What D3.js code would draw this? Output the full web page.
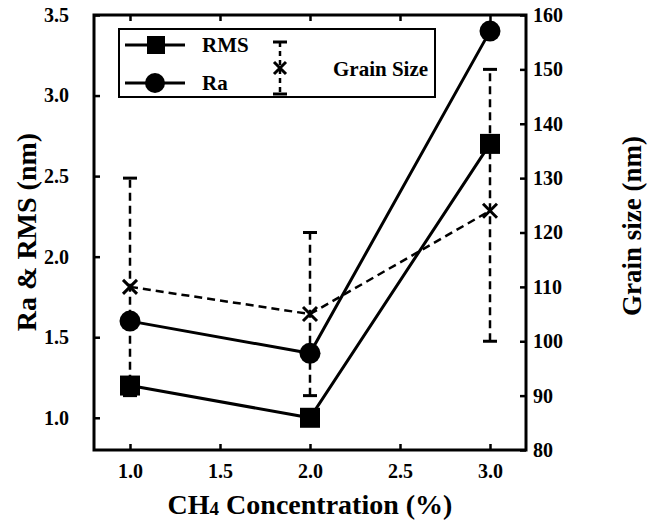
<!DOCTYPE html>
<html>
<head>
<meta charset="utf-8">
<script src="https://cdn.jsdelivr.net/npm/d3@7"></script>
<style>
  body { margin: 0; background: #fff; }
</style>
</head>
<body>
<div id="chart"></div>
<script>
// data
var conc = [1.0, 2.0, 3.0];
var rms = [1.2, 1.0, 2.7];
var ra = [1.6, 1.4, 3.4];
var grain = [110, 105, 124];
var grainLow = [90, 90, 100];
var grainHigh = [130, 120, 150];

var leftTicks = [1.0, 1.5, 2.0, 2.5, 3.0, 3.5];
var rightTicks = [80, 90, 100, 110, 120, 130, 140, 150, 160];
var xTicks = [1.0, 1.5, 2.0, 2.5, 3.0];

var W = 649, H = 523;
var FONT = "'Liberation Serif', 'Times New Roman', serif";
var svg = d3.select("#chart").append("svg")
  .attr("width", W)
  .attr("height", H);

var x = d3.scaleLinear().domain([0.8, 3.2]).range([94, 526]);
var y = d3.scaleLinear().domain([0.8, 3.5]).range([450, 15]);
var y2 = d3.scaleLinear().domain([80, 160]).range([450, 15]);

function styleAxis(g) {
  g.select(".domain").remove();
  g.selectAll(".tick line").attr("stroke", "#000").attr("stroke-width", 2.5);
  g.selectAll(".tick text").style("font-size", "20px");
}

svg.append("g").attr("transform", "translate(0,450)")
  .call(d3.axisBottom(x).tickValues(xTicks).tickSize(-6).tickPadding(14).tickFormat(d3.format(".1f")))
  .call(styleAxis);
svg.append("g").attr("transform", "translate(0,15)")
  .call(d3.axisTop(x).tickValues(xTicks).tickSize(-6).tickFormat(""))
  .call(styleAxis);
svg.append("g").attr("transform", "translate(94,0)")
  .call(d3.axisLeft(y).tickValues(leftTicks).tickSize(-6).tickPadding(25).tickFormat(d3.format(".1f")))
  .call(styleAxis);
svg.append("g").attr("transform", "translate(526,0)")
  .call(d3.axisRight(y2).tickValues(rightTicks).tickSize(-6).tickPadding(7))
  .call(styleAxis);

// frame
svg.append("rect")
  .attr("x", 94).attr("y", 15)
  .attr("width", 526 - 94).attr("height", 450 - 15)
  .attr("fill", "none").attr("stroke", "#000").attr("stroke-width", 3);

// grain size error bars + dashed line
var ebar = svg.append("g");
conc.forEach(function(c, i) {
  ebar.append("line")
    .attr("x1", x(c)).attr("x2", x(c))
    .attr("y1", y2(grainLow[i])).attr("y2", y2(grainHigh[i]))
    .attr("stroke", "#000").attr("stroke-width", 2.5).attr("stroke-dasharray", "8,5");
  [grainLow[i], grainHigh[i]].forEach(function(v) {
    ebar.append("line")
      .attr("x1", x(c) - 7).attr("x2", x(c) + 7)
      .attr("y1", y2(v)).attr("y2", y2(v))
      .attr("stroke", "#000").attr("stroke-width", 3);
  });
});

var gline = d3.line().x(function(d, i) { return x(conc[i]); }).y(function(d) { return y2(d); });
svg.append("path").datum(grain)
  .attr("d", gline)
  .attr("fill", "none").attr("stroke", "#000").attr("stroke-width", 2.5).attr("stroke-dasharray", "8,5");

var line = d3.line().x(function(d, i) { return x(conc[i]); }).y(function(d) { return y(d); });
svg.append("path").datum(rms).attr("d", line)
  .attr("fill", "none").attr("stroke", "#000").attr("stroke-width", 3);
svg.append("path").datum(ra).attr("d", line)
  .attr("fill", "none").attr("stroke", "#000").attr("stroke-width", 3);

// markers
function cross(g, cx, cy, s) {
  g.append("path")
    .attr("d", "M" + (cx - s) + "," + (cy - s) + "L" + (cx + s) + "," + (cy + s) +
               "M" + (cx - s) + "," + (cy + s) + "L" + (cx + s) + "," + (cy - s))
    .attr("stroke", "#000").attr("stroke-width", 3).attr("fill", "none");
}
var marks = svg.append("g");
rms.forEach(function(v, i) {
  marks.append("rect")
    .attr("x", x(conc[i]) - 10).attr("y", y(v) - 10)
    .attr("width", 20).attr("height", 20).attr("fill", "#000");
});
ra.forEach(function(v, i) {
  marks.append("circle")
    .attr("cx", x(conc[i])).attr("cy", y(v)).attr("r", 10.5).attr("fill", "#000");
});
grain.forEach(function(v, i) { cross(marks, x(conc[i]), y2(v), 7); });

// legend
var lg = svg.append("g");
lg.append("rect").attr("x", 119).attr("y", 29).attr("width", 316).attr("height", 68)
  .attr("fill", "#fff").attr("stroke", "#000").attr("stroke-width", 2);
lg.append("line").attr("x1", 125).attr("x2", 185).attr("y1", 45).attr("y2", 45)
  .attr("stroke", "#000").attr("stroke-width", 3);
lg.append("rect").attr("x", 147).attr("y", 36).attr("width", 18).attr("height", 18).attr("fill", "#000");
lg.append("line").attr("x1", 125).attr("x2", 185).attr("y1", 83).attr("y2", 83)
  .attr("stroke", "#000").attr("stroke-width", 3);
lg.append("circle").attr("cx", 155).attr("cy", 83).attr("r", 10).attr("fill", "#000");
lg.append("text").attr("x", 202).attr("y", 52).style("font-size", "21px").text("RMS");
lg.append("text").attr("x", 202).attr("y", 90).style("font-size", "21px").text("Ra");
lg.append("line").attr("x1", 280).attr("x2", 280).attr("y1", 42).attr("y2", 94)
  .attr("stroke", "#000").attr("stroke-width", 2.5).attr("stroke-dasharray", "5,4");
[42, 94].forEach(function(v) {
  lg.append("line").attr("x1", 273).attr("x2", 287).attr("y1", v).attr("y2", v)
    .attr("stroke", "#000").attr("stroke-width", 3);
});
cross(lg, 280, 68, 6);
lg.append("text").attr("x", 333).attr("y", 76).style("font-size", "21px").text("Grain Size");

// axis titles
svg.append("text")
  .attr("transform", "translate(36,232) rotate(-90)")
  .attr("text-anchor", "middle").style("font-size", "28px")
  .text("Ra & RMS (nm)");
svg.append("text")
  .attr("transform", "translate(641,226) rotate(-90)")
  .attr("text-anchor", "middle").style("font-size", "27px")
  .text("Grain size (nm)");
var xt = svg.append("text")
  .attr("x", 310).attr("y", 514)
  .attr("text-anchor", "middle").style("font-size", "28px");
xt.append("tspan").text("CH");
xt.append("tspan").style("font-size", "19px").attr("dy", 1).text("4");
xt.append("tspan").attr("dy", -1).text(" Concentration (%)");

svg.selectAll("text")
  .style("font-family", FONT)
  .style("font-weight", "bold")
  .attr("fill", "#000");
</script>
</body>
</html>
